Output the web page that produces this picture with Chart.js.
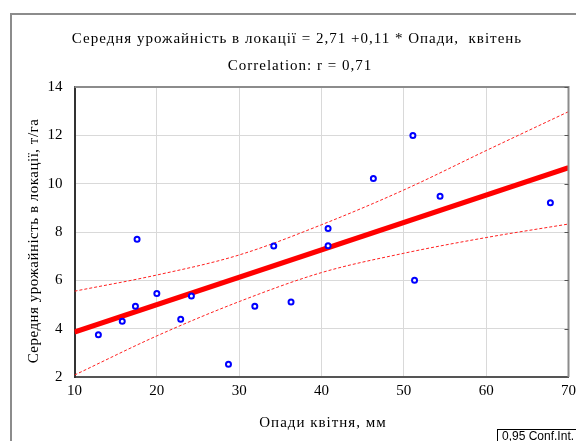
<!DOCTYPE html>
<html>
<head>
<meta charset="utf-8">
<script src="https://cdn.jsdelivr.net/npm/chart.js@4.4.0/dist/chart.umd.min.js"></script>
<style>
  html, body { margin: 0; padding: 0; background: #fff; }
  #wrap { width: 576px; height: 441px; position: relative; }
</style>
</head>
<body>
<div id="wrap"><canvas id="scatterChart" width="576" height="441"></canvas></div>
<script>
// rainfall in April (mm) and mean yield (t/ha) for each location
const rainX = [12.9, 15.8, 17.4, 17.6, 20.0, 22.9, 24.2, 28.7, 31.9, 34.2, 36.3, 40.8, 40.8, 46.3, 51.1, 51.3, 54.4, 67.8];
const yieldY = [3.75, 4.31, 4.93, 7.70, 5.46, 4.39, 5.35, 2.53, 4.93, 7.42, 5.10, 8.14, 7.43, 10.21, 11.99, 6.00, 9.48, 9.21];

// regression line ends
const fitX = [10, 70];
const fitY = [3.86, 10.66];

// 0.95 confidence band
const bandX = [10, 20, 30, 40, 50, 60, 70];
const bandUpper = [5.55, 6.22, 7.05, 8.30, 9.74, 11.37, 12.98];
const bandLower = [2.08, 3.70, 5.12, 6.32, 7.12, 7.77, 8.33];

const xTicks = [10, 20, 30, 40, 50, 60, 70];
const yTicks = [2, 4, 6, 8, 10, 12, 14];

const titleText = "Середня урожайність в локації = 2,71 +0,11 * Опади,  квітень";
const subtitleText = "Correlation: r = 0,71";
const xTitle = "Опади квітня, мм";
const yTitle = "Середня урожайність в локації, т/га";
const confText = "0,95 Conf.Int.";

const serif = "'Liberation Serif', 'Times New Roman', serif";

const toPts = (xs, ys) => xs.map((x, i) => ({ x: x, y: ys[i] }));

function spacedText(ctx, txt, x, y, spacing) {
  ctx.letterSpacing = spacing;
  ctx.fillText(txt, x, y);
  ctx.letterSpacing = "0px";
}

// frame, titles, top/right border of the plot, conf. int. box
const decor = {
  id: "decor",
  beforeDraw(chart) {
    const ctx = chart.ctx;
    ctx.save();
    ctx.fillStyle = "#fff";
    ctx.fillRect(0, 0, chart.width, chart.height);
    ctx.strokeStyle = "#8c8c8c";
    ctx.lineWidth = 2;
    ctx.strokeRect(11, 14, 700, 600);

    ctx.fillStyle = "#000";
    ctx.font = "15px " + serif;
    ctx.textAlign = "center";
    ctx.textBaseline = "alphabetic";
    spacedText(ctx, titleText, 297, 43, "1px");
    spacedText(ctx, subtitleText, 300, 70, "1px");
    spacedText(ctx, xTitle, 323, 427, "1px");

    ctx.translate(38, 241);
    ctx.rotate(-Math.PI / 2);
    spacedText(ctx, yTitle, 0, 0, "0.5px");
    ctx.restore();
  },
  afterDraw(chart) {
    const ctx = chart.ctx;
    const a = chart.chartArea;
    ctx.save();
    ctx.strokeStyle = "#8c8c8c";
    ctx.lineWidth = 2;
    ctx.beginPath();
    ctx.moveTo(a.left, a.top);
    ctx.lineTo(a.right, a.top);
    ctx.lineTo(a.right, a.bottom);
    ctx.stroke();
    // small inner ticks on the right side
    ctx.lineWidth = 1;
    ctx.strokeStyle = "#555";
    const ys = chart.scales.y;
    yTicks.forEach(v => {
      const py = Math.round(ys.getPixelForValue(v)) + 0.5;
      ctx.beginPath();
      ctx.moveTo(a.right - 4, py);
      ctx.lineTo(a.right, py);
      ctx.stroke();
    });
    // conf int label box
    ctx.fillStyle = "#fff";
    ctx.fillRect(497, 429, 90, 20);
    ctx.strokeStyle = "#000";
    ctx.strokeRect(497.5, 429.5, 90, 20);
    ctx.fillStyle = "#000";
    ctx.font = "12px 'Liberation Sans', Arial, sans-serif";
    ctx.textBaseline = "alphabetic";
    ctx.textAlign = "left";
    ctx.fillText(confText, 502, 440);
    ctx.restore();
  }
};

const ctx = document.getElementById("scatterChart").getContext("2d");
new Chart(ctx, {
  type: "scatter",
  data: {
    datasets: [
      {
        label: "points",
        data: toPts(rainX, yieldY),
        pointRadius: 2.5,
        pointBorderWidth: 2,
        pointBorderColor: "#0000ff",
        pointBackgroundColor: "#ffffff",
        showLine: false,
        order: 0
      },
      {
        label: "fit",
        type: "line",
        data: toPts(fitX, fitY),
        borderColor: "#ff0000",
        borderWidth: 5,
        pointRadius: 0,
        order: 1
      },
      {
        label: "upper",
        type: "line",
        data: toPts(bandX, bandUpper),
        borderColor: "#ff2020",
        borderWidth: 1,
        borderDash: [3, 2],
        pointRadius: 0,
        cubicInterpolationMode: "monotone",
        order: 2
      },
      {
        label: "lower",
        type: "line",
        data: toPts(bandX, bandLower),
        borderColor: "#ff2020",
        borderWidth: 1,
        borderDash: [3, 2],
        pointRadius: 0,
        cubicInterpolationMode: "monotone",
        order: 2
      }
    ]
  },
  options: {
    responsive: false,
    animation: false,
    layout: { padding: { left: 0, right: 7.5, top: 87, bottom: 0 } },
    plugins: {
      legend: { display: false },
      tooltip: { enabled: false }
    },
    scales: {
      x: {
        type: "linear",
        min: 10,
        max: 70,
        afterBuildTicks: s => { s.ticks = xTicks.map(v => ({ value: v })); },
        afterFit: s => { s.height = 64; s.paddingLeft = 0; s.paddingRight = 0; },
        grid: { color: "#d9d9d9", drawTicks: false },
        border: { color: "#555", width: 2 },
        ticks: { color: "#000", padding: 5, font: { family: serif, size: 15 } }
      },
      y: {
        type: "linear",
        min: 2,
        max: 14,
        afterBuildTicks: s => { s.ticks = yTicks.map(v => ({ value: v })); },
        afterFit: s => { s.width = 74.5; s.paddingTop = 0; s.paddingBottom = 0; },
        grid: { color: "#d9d9d9", drawTicks: false },
        border: { color: "#333", width: 2 },
        ticks: { color: "#000", padding: 12, font: { family: serif, size: 15 } }
      }
    }
  },
  plugins: [decor]
});
</script>
</body>
</html>
